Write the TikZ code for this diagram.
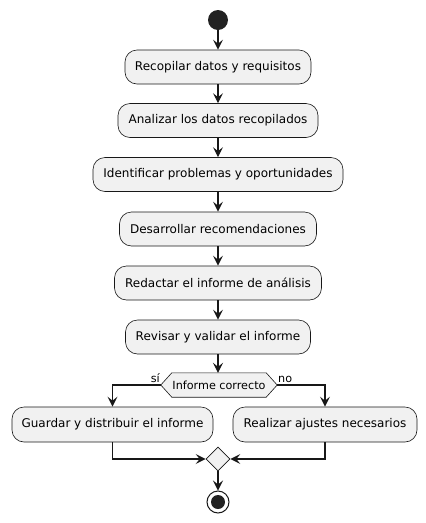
\documentclass[tikz,border=0pt]{standalone}
\usepackage{fontspec}
\setmainfont{DejaVu Sans}
\usetikzlibrary{arrows.meta,shapes.geometric}
\definecolor{boxfill}{HTML}{F1F1F1}
\definecolor{linec}{HTML}{181818}
\definecolor{dotc}{HTML}{222222}
\tikzset{
  act/.style={draw=linec, fill=boxfill, rounded corners=12pt, line width=0.6pt,
    minimum height=34pt, inner sep=0pt, font=\fontsize{12}{14}\selectfont},
  arr/.style={draw=linec, line width=1.1pt, -{Stealth[length=10pt,width=10pt,inset=4pt]}},
  lbl/.style={font=\fontsize{11.2}{13}\selectfont, inner sep=0pt, text=black},
  decf/.style={minimum width=116pt, minimum height=24pt, inner sep=0pt, font=\fontsize{11.2}{13}\selectfont}
}
\begin{document}
\begin{tikzpicture}[x=1pt,y=-1pt]
\useasboundingbox (0,0) rectangle (426,523);
\node[circle, fill=dotc, minimum size=20pt, inner sep=0pt] (start) at (218,20) {};
\node[act, minimum width=186pt] (b1) at (218,67) {Recopilar datos y requisitos};
\node[act, minimum width=200pt] (b2) at (218,120.5) {Analizar los datos recopilados};
\node[act, minimum width=250pt] (b3) at (218,174.5) {Identificar problemas y oportunidades};
\node[act, minimum width=197pt] (b4) at (218,229) {Desarrollar recomendaciones};
\node[act, minimum width=207pt] (b5) at (218,283) {Redactar el informe de análisis};
\node[act, minimum width=185pt] (b6) at (218,337) {Revisar y validar el informe};
\node[decf] (dec) at (219,385) {};
\draw[linec, fill=boxfill, line width=0.6pt] (dec.west) -- ([xshift=11pt]dec.north west) -- ([xshift=-11pt]dec.north east) -- (dec.east) -- ([xshift=-11pt]dec.south east) -- ([xshift=11pt]dec.south west) -- cycle;
\node[decf] (dectext) at (dec) {Informe correcto};
\node[act, minimum width=201pt, minimum height=35pt] (b7) at (112.5,424.5) {Guardar y distribuir el informe};
\node[act, minimum width=184pt, minimum height=35pt] (b8) at (325,424.5) {Realizar ajustes necesarios};
\node[diamond, draw=linec, fill=boxfill, line width=0.6pt, minimum width=24pt, minimum height=24pt, inner sep=0pt] (merge) at (218,459) {};
\node[circle, draw=linec, fill=white, line width=1pt, minimum size=22pt, inner sep=0pt] (stop) at (218,502) {};
\node[circle, fill=dotc, minimum size=14pt, inner sep=0pt] (stopin) at (218,502) {};
\draw[arr] (start.south) -- (start.south |- b1.north);
\draw[arr] (b1.south) -- (b1.south |- b2.north);
\draw[arr] (b2.south) -- (b2.south |- b3.north);
\draw[arr] (b3.south) -- (b3.south |- b4.north);
\draw[arr] (b4.south) -- (b4.south |- b5.north);
\draw[arr] (b5.south) -- (b5.south |- b6.north);
\draw[arr] (b6.south) -- (b6.south |- dec.north);
\draw[arr] (dec.west) -| (b7.north);
\draw[arr] (dec.east) -| (b8.north);
\draw[arr] (b7.south) |- (merge.west);
\draw[arr] (b8.south) |- (merge.east);
\draw[arr] (merge.south) -- (stop.north);
\node[lbl, anchor=south east] (si) at (160,383) {sí};
\node[lbl, anchor=south west] (no) at (278,383) {no};
\end{tikzpicture}
\end{document}
